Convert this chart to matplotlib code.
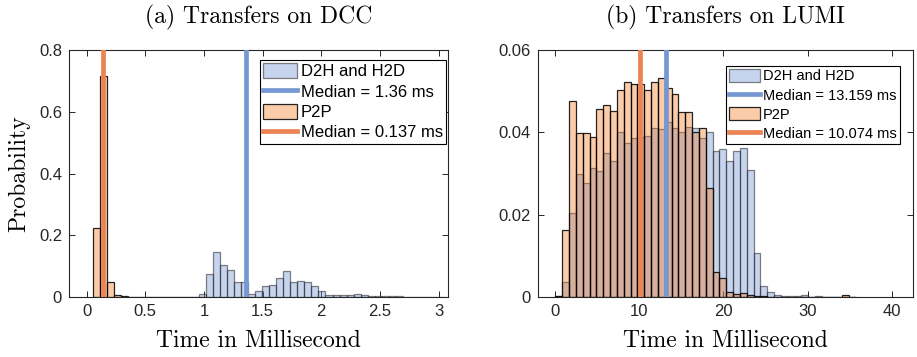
import numpy as np
import matplotlib
matplotlib.use("Agg")
import matplotlib.pyplot as plt

# ---------------- data ----------------
series_labels = ["D2H and H2D", "P2P"]
titles = ["(a) Transfers on DCC", "(b) Transfers on LUMI"]
xlabel_text = "Time in Millisecond"
ylabel_text = "Probability"

# DCC (ms), probability per bin
dcc_bin_width = 0.06
dcc_p2p_start = 0.056
dcc_p2p = [0.223, 0.716, 0.049, 0.006, 0.002, 0.001, 0.001, 0.0008, 0.0005,
           0.0005, 0.0005, 0.0003, 0.0003, 0.0003, 0.0003]
dcc_d2h_start = 0.956
dcc_d2h = [0.011, 0.076, 0.146, 0.105, 0.086, 0.048, 0.048, 0.011, 0.018,
           0.035, 0.040, 0.063, 0.083, 0.047, 0.053, 0.049, 0.036, 0.021,
           0.008, 0.005, 0.008, 0.008, 0.010, 0.007, 0.004, 0.004, 0.003,
           0.002, 0.002, 0.001, 0.001, 0.001, 0.0005, 0.0005, 0.0005]
dcc_median_d2h = 1.36
dcc_median_p2p = 0.137
dcc_xticks = [0, 0.5, 1, 1.5, 2, 2.5, 3]
dcc_xticklabels = ["0", "0.5", "1", "1.5", "2", "2.5", "3"]
dcc_yticks = [0, 0.2, 0.4, 0.6, 0.8]
dcc_yticklabels = ["0", "0.2", "0.4", "0.6", "0.8"]
dcc_xlim = (-0.15, 3.08)
dcc_ylim = (0, 0.8)

# LUMI (ms)
lumi_bin_width = 0.81
lumi_start = 0.1
lumi_d2h = [0.0003, 0.0036, 0.0204, 0.0300, 0.0277, 0.0313, 0.0306, 0.0350,
            0.0330, 0.0401, 0.0374, 0.0386, 0.0389, 0.0391, 0.0411, 0.0407,
            0.0425, 0.0411, 0.0402, 0.0412, 0.0410, 0.0386, 0.0400, 0.0354,
            0.0359, 0.0331, 0.0355, 0.0362, 0.0309, 0.0108, 0.0026, 0.0011,
            0.0005, 0.0003, 0.0002, 0.0002, 0.0004, 0.0001, 0.0002, 0.0001,
            0.0001, 0.0001, 0.0001, 0.0001]
lumi_p2p = [0.0003, 0.0163, 0.0476, 0.0398, 0.0398, 0.0389, 0.0456, 0.0467,
            0.0453, 0.0502, 0.0522, 0.0518, 0.0518, 0.0504, 0.0522, 0.0531,
            0.0507, 0.0493, 0.0450, 0.0450, 0.0402, 0.0411, 0.0265, 0.0060,
            0.0045, 0.0013, 0.0008, 0.0010, 0.0004, 0.0003, 0.0002, 0.0001,
            0.0001, 0.0001, 0.0001, 0.0001, 0.0001, 0.0001, 0.0001, 0.0001,
            0.0001, 0.0001, 0.0004, 0.0001]
lumi_median_d2h = 13.159
lumi_median_p2p = 10.074
lumi_xticks = [0, 10, 20, 30, 40]
lumi_xticklabels = ["0", "10", "20", "30", "40"]
lumi_yticks = [0, 0.02, 0.04, 0.06]
lumi_yticklabels = ["0", "0.02", "0.04", "0.06"]
lumi_xlim = (-2.0, 42.5)
lumi_ylim = (0, 0.06)

# ---------------- style ----------------
BLUE_FACE = (0.45, 0.58, 0.84, 0.40)
BLUE_EDGE = (0.12, 0.12, 0.12, 0.55)
ORANGE_FACE = (0.945, 0.43, 0.05, 0.35)
ORANGE_EDGE = (0.0, 0.0, 0.0, 0.85)
BLUE_LINE = "#7698D2"
ORANGE_LINE = "#EB8452"
AX_COLOR = (0.15, 0.15, 0.15)

SERIF = ["cmr10", "DejaVu Serif"]
SANS = ["Liberation Sans", "DejaVu Sans"]
plt.rcParams["axes.formatter.use_mathtext"] = True

fig = plt.figure(figsize=(9.17, 3.57), dpi=100)
W, H = 917, 357


def px_axes(l, r, t, b):
    return fig.add_axes([l / W, 1 - b / H, (r - l) / W, (b - t) / H])


ax1 = px_axes(69, 448, 50, 297)
ax2 = px_axes(537.7, 913, 50, 297)


def draw(ax, d2h_start, d2h, p2p_start, p2p, width, med_d2h, med_p2p,
         xticks, xtl, yticks, ytl, xlim, ylim, title, leg_anchor, leg_size,
         leg_hl, leg_ls, ylabel=True):
    d2h_left = d2h_start + width * np.arange(len(d2h))
    p2p_left = p2p_start + width * np.arange(len(p2p))
    b1 = ax.bar(d2h_left, d2h, width=width, align="edge", facecolor=BLUE_FACE,
                edgecolor=BLUE_EDGE, linewidth=0.9, label=series_labels[0], zorder=2)
    b2 = ax.bar(p2p_left, p2p, width=width, align="edge", facecolor=ORANGE_FACE,
                edgecolor=ORANGE_EDGE, linewidth=0.9, label=series_labels[1], zorder=3)
    l1 = ax.axvline(med_d2h, color=BLUE_LINE, lw=3.4, zorder=4,
                    label=f"Median = {med_d2h} ms")
    l2 = ax.axvline(med_p2p, color=ORANGE_LINE, lw=3.4, zorder=5,
                    label=f"Median = {med_p2p} ms")
    ax.set_xlim(*xlim)
    ax.set_ylim(*ylim)
    ax.set_xticks(xticks)
    ax.set_xticklabels(xtl, family=SANS, fontsize=12)
    ax.set_yticks(yticks)
    ax.set_yticklabels(ytl, family=SANS, fontsize=12)
    ax.tick_params(direction="in", top=True, right=True, length=4, width=0.7,
                   color=AX_COLOR, labelcolor=AX_COLOR, pad=5)
    for s in ax.spines.values():
        s.set_color(AX_COLOR)
        s.set_linewidth(0.8)
    ax.set_title(title, family=SERIF, fontsize=17, pad=19)
    ax.set_xlabel(xlabel_text, family=SERIF, fontsize=17, labelpad=8)
    if ylabel:
        ax.set_ylabel(ylabel_text, family=SERIF, fontsize=17, labelpad=6)
    leg = ax.legend(handles=[b1, l1, b2, l2], loc="upper right",
                    bbox_to_anchor=leg_anchor, borderaxespad=0,
                    prop={"family": SANS, "size": leg_size}, frameon=True,
                    fancybox=False, framealpha=1, edgecolor="black",
                    handlelength=leg_hl, handleheight=1.0, handletextpad=0.2,
                    labelspacing=leg_ls, borderpad=0.2)
    leg.get_frame().set_linewidth(0.8)
    leg.set_zorder(10)


draw(ax1, dcc_d2h_start, dcc_d2h, dcc_p2p_start, dcc_p2p, dcc_bin_width,
     dcc_median_d2h, dcc_median_p2p, dcc_xticks, dcc_xticklabels, dcc_yticks,
     dcc_yticklabels, dcc_xlim, dcc_ylim, titles[0], (0.995, 0.96), 12, 2.05, 0.25)
draw(ax2, lumi_start, lumi_d2h, lumi_start, lumi_p2p, lumi_bin_width,
     lumi_median_d2h, lumi_median_p2p, lumi_xticks, lumi_xticklabels, lumi_yticks,
     lumi_yticklabels, lumi_xlim, lumi_ylim, titles[1], (0.965, 0.935), 10.5, 2.17,
     0.32, ylabel=False)

fig.savefig("out.png", dpi=100)
